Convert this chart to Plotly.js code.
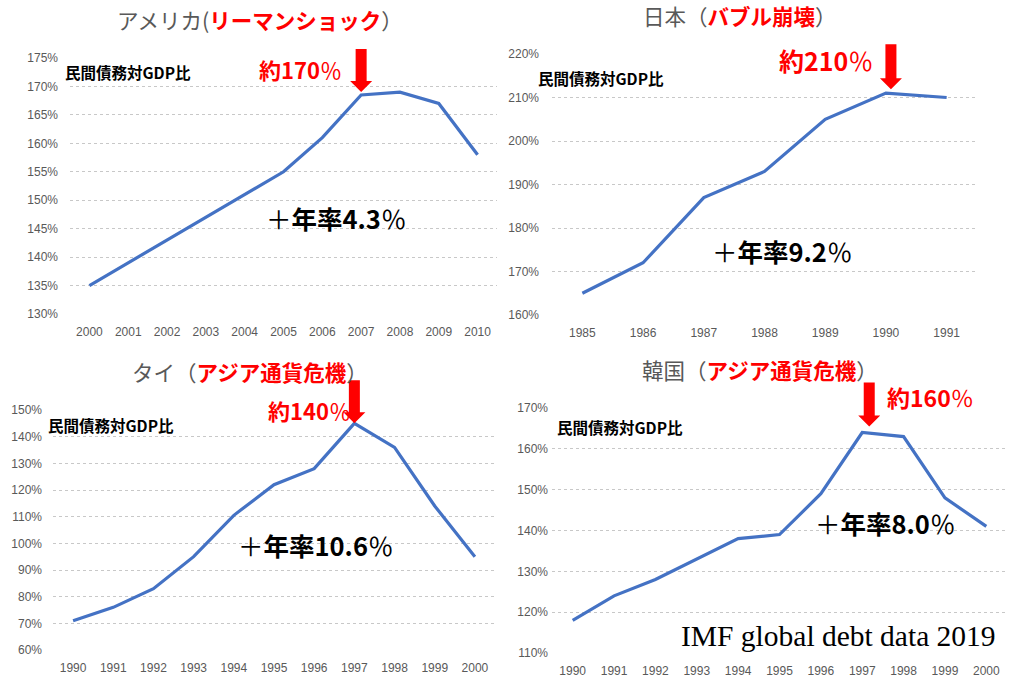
<!DOCTYPE html>
<html>
<head>
<meta charset="utf-8">
<script src="https://cdn.plot.ly/plotly-3.0.1.min.js"></script>
<style>html,body{margin:0;padding:0;background:#fff;}#chart{width:1015px;height:677px;}</style>
</head>
<body>
<div id="chart"></div>
<script>
// ---- Data ----
const usYears = ['2000','2001','2002','2003','2004','2005','2006','2007','2008','2009','2010'];
const usDebt  = [135, 139, 143, 147, 151, 155, 161, 168.5, 169, 167, 158];
const jpYears = ['1985','1986','1987','1988','1989','1990','1991'];
const jpDebt  = [165, 172, 187, 193, 205, 211, 210];
const thYears = ['1990','1991','1992','1993','1994','1995','1996','1997','1998','1999','2000'];
const thDebt  = [71, 76, 83, 95, 110.5, 122, 128, 145, 136, 114, 95];
const krYears = ['1990','1991','1992','1993','1994','1995','1996','1997','1998','1999','2000'];
const krDebt  = [118, 124, 128, 133, 138, 139, 149, 164, 163, 148, 141];

const titles = [
  "アメリカ(<span style='color:#FF0000'><b>リーマンショック</b></span>）",
  "日本（<span style='color:#FF0000'><b>バブル崩壊</b></span>）",
  "タイ（<span style='color:#FF0000'><b>アジア通貨危機</b></span>）",
  "韓国（<span style='color:#FF0000'><b>アジア通貨危機</b></span>）"
];
const yLabel = "民間債務対GDP比";
const peakLabels = ["約170", "約210", "約140", "約160"];
const growthLabels = ["年率4.3", "年率9.2", "年率10.6", "年率8.0"];
const peakIdx = [7, 5, 7, 7];
const source = "IMF global debt data 2019";

// ---- Layout helpers ----
const W = 1015, H = 677;
const px = x => x / W;
const py = y => 1 - y / H;

const lineColor = '#4472C4';
const tickFont = {family: 'Liberation Sans, Arial, sans-serif', size: 12, color: '#595959'};
const cjk = 'Noto Sans CJK JP, sans-serif';

const series = [
  {x: usYears, y: usDebt}, {x: jpYears, y: jpDebt},
  {x: thYears, y: thDebt}, {x: krYears, y: krDebt}
];
const suffix = ['', '2', '3', '4'];

const traces = series.map((s, i) => ({
  type: 'scatter', mode: 'lines', x: s.x, y: s.y,
  xaxis: 'x' + suffix[i], yaxis: 'y' + suffix[i],
  line: {color: lineColor, width: 3.2}, hoverinfo: 'x+y', showlegend: false
}));

// plot areas in pixels [left, right, top, bottom]
const boxes = [
  [70, 497, 58, 314],
  [552, 977, 54, 315],
  [53, 495, 410, 650],
  [552, 1007, 408, 653]
];
const yRanges = [[130, 175], [160, 220], [60, 150], [110, 170]];
const yDticks = [5, 10, 10, 10];
const yStand = [11, 12, 10, 3];

const layout = {
  width: W, height: H,
  margin: {l: 0, r: 0, t: 0, b: 0},
  paper_bgcolor: '#fff', plot_bgcolor: '#fff',
  showlegend: false,
  font: tickFont,
  annotations: [], shapes: []
};

series.forEach((s, i) => {
  const b = boxes[i];
  layout['xaxis' + suffix[i]] = {
    domain: [px(b[0]), px(b[1])],
    anchor: 'y' + suffix[i],
    type: 'category',
    range: [-0.5, s.x.length - 0.5],
    showgrid: false, zeroline: false, showline: false,
    ticks: '', tickfont: tickFont, ticklabelstandoff: 9,
    fixedrange: true
  };
  layout['yaxis' + suffix[i]] = {
    domain: [py(b[3]), py(b[2])],
    anchor: 'x' + suffix[i],
    range: yRanges[i], dtick: yDticks[i], tick0: 0,
    ticksuffix: '%',
    showgrid: true, gridcolor: '#c8c8c8', griddash: 'dot', gridwidth: 1,
    zeroline: false, showline: false, ticks: '',
    tickfont: tickFont, ticklabelstandoff: yStand[i],
    fixedrange: true
  };
});

const A = layout.annotations;
function txt(x, y, text, font, extra) {
  A.push(Object.assign({xref: 'paper', yref: 'paper', x: px(x), y: py(y),
    xanchor: 'center', yanchor: 'middle', showarrow: false, text: text, font: font}, extra || {}));
}

// titles
const titlePos = [[260, 20], [740, 16], [250, 371], [760, 369]];
titles.forEach((t, i) => txt(titlePos[i][0], titlePos[i][1], t, {family: cjk, size: 21.5, color: '#595959'}));

// y label notes
const notePos = [[128, 72], [601, 78], [111, 425], [620, 427]];
notePos.forEach(p => txt(p[0], p[1], '<b>' + yLabel + '</b>', {family: cjk, size: 15.5, color: '#000'}));

// peak labels
const peakPos = [[300, 69], [826, 60], [309, 410], [930, 397]];
const peakSize = [22, 25, 22, 23];
peakLabels.forEach((t, i) => txt(peakPos[i][0], peakPos[i][1], '<b>' + t + '</b>％', {family: cjk, size: peakSize[i], color: '#FF0000'}));

// growth labels
const growPos = [[336, 217], [782, 250], [315, 544], [885, 522]];
growthLabels.forEach((t, i) => txt(growPos[i][0], growPos[i][1], '＋<b>' + t + '</b>％', {family: cjk, size: 25.5, color: '#000'}));

// source
txt(838, 636, source, {family: 'Liberation Serif, Times New Roman, serif', size: 29.5, color: '#000'});

// red arrows pointing down to the peaks (pixel-sized shapes anchored at the peak point,
// referenced to axis domains so they are not clipped by the plot area)
const arrowShift = [0, 5, 0, 7];
const arrowStand = [3, 4, 0, 6];
const arrowLen = [43, 45, 43, 44];
series.forEach((s, i) => {
  const dx = arrowShift[i], tip = arrowStand[i], base = tip + 11, top = tip + arrowLen[i];
  const path = `M ${dx-5.5},${top} L ${dx+5.5},${top} L ${dx+5.5},${base} L ${dx+11},${base} ` +
               `L ${dx},${tip} L ${dx-11},${base} L ${dx-5.5},${base} Z`;
  const r = yRanges[i];
  layout.shapes.push({
    type: 'path', xref: 'x' + suffix[i] + ' domain', yref: 'y' + suffix[i] + ' domain',
    xsizemode: 'pixel', ysizemode: 'pixel',
    xanchor: (peakIdx[i] + 0.5) / s.x.length,
    yanchor: (s.y[peakIdx[i]] - r[0]) / (r[1] - r[0]),
    path: path, fillcolor: '#FF0000', line: {width: 0}, layer: 'above'
  });
});

Plotly.newPlot('chart', traces, layout, {displayModeBar: false, staticPlot: true});
</script>
</body>
</html>
